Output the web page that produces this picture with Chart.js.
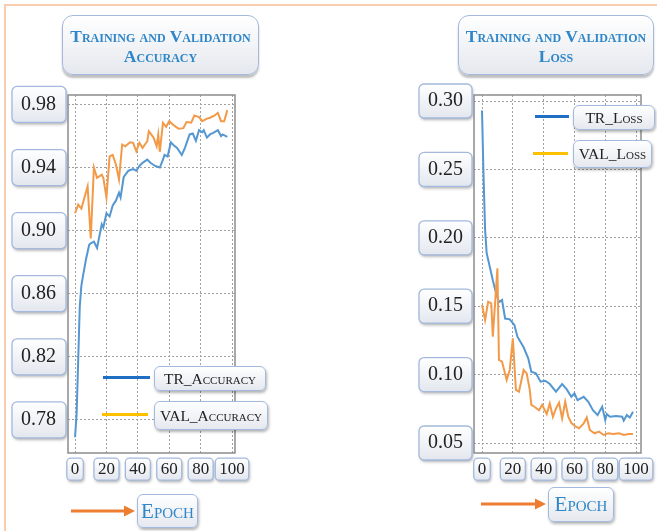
<!DOCTYPE html>
<html><head><meta charset="utf-8">
<script src="https://cdn.jsdelivr.net/npm/chart.js@4.4.0/dist/chart.umd.min.js"></script>
<style>
body{margin:0;background:#fff;}
#wrap{position:relative;width:657px;height:531px;overflow:hidden;background:#fff;font-family:'Liberation Serif',serif;}
.peach-top{position:absolute;left:4px;top:4px;width:700px;height:2px;background:#f8cdb0;}
.peach-left{position:absolute;left:4px;top:4px;width:2px;height:560px;background:#f8cdb0;}
canvas{position:absolute;}
.box{position:absolute;box-sizing:border-box;border:1.5px solid #a3b9dd;border-radius:6px;background:linear-gradient(#ffffff,#e5e8ee);box-shadow:1px 2px 3px rgba(0,0,0,0.3);display:flex;align-items:center;justify-content:center;white-space:nowrap;}
.title{color:#2f86c9;font-weight:bold;font-variant:small-caps;font-size:17.5px;line-height:20px;text-align:center;border-radius:11px;box-shadow:0 3px 2px rgba(0,0,0,0.25);padding-top:2px;}
.leg{color:#222;font-variant:small-caps;font-size:15.5px;}
.line{position:absolute;height:3px;}
.epoch{color:#2f86c9;font-variant:small-caps;font-size:21px;}
svg{position:absolute;left:0;top:0;}
</style></head>
<body>
<div id="wrap">
  <div class="peach-top"></div>
  <div class="peach-left"></div>
  <canvas id="acc" width="330" height="420" style="left:0;top:80px;width:330px;height:420px;"></canvas>
  <canvas id="loss" width="327" height="420" style="left:330px;top:80px;width:327px;height:420px;"></canvas>

  <div class="box title" style="left:62px;top:15px;width:197px;height:60px;">Training and Validation<br>Accuracy</div>
  <div class="box title" style="left:458px;top:15px;width:196px;height:60px;">Training and Validation<br>Loss</div>

  <div class="line" style="left:103px;top:376px;width:47px;background:#1f6fc5;"></div>
  <div class="box leg" style="left:154px;top:366px;width:112px;height:25px;">TR_Accuracy</div>
  <div class="line" style="left:102px;top:413px;width:46px;background:#ffc000;"></div>
  <div class="box leg" style="left:154px;top:401px;width:114px;height:29px;">VAL_Accuracy</div>

  <div class="line" style="left:535px;top:115px;width:34px;background:#1f6fc5;"></div>
  <div class="box leg" style="left:573px;top:105px;width:82px;height:25px;">TR_Loss</div>
  <div class="line" style="left:533px;top:152px;width:35px;background:#ffc000;"></div>
  <div class="box leg" style="left:573px;top:140px;width:79px;height:28px;">VAL_Loss</div>

  <svg width="657" height="531">
    <line x1="71" y1="511" x2="126" y2="511" stroke="#ed7d31" stroke-width="3"/>
    <polygon points="124,505.5 135,511 124,516.5" fill="#ed7d31"/>
    <line x1="481" y1="504" x2="537" y2="504" stroke="#ed7d31" stroke-width="3"/>
    <polygon points="535,498.5 546,504 535,509.5" fill="#ed7d31"/>
  </svg>
  <div class="box epoch" style="left:137px;top:494px;width:61px;height:34px;">Epoch</div>
  <div class="box epoch" style="left:548px;top:487px;width:66px;height:35px;">Epoch</div>
</div>
<script>
const epochTicks = [0, 20, 40, 60, 80, 100];
const accTicks = [0.78, 0.82, 0.86, 0.90, 0.94, 0.98];
const lossTicks = [0.05, 0.10, 0.15, 0.20, 0.25, 0.30];

const accTrainEpochs = [0,1,2,3,4,5,7,9,10,12,14,17,18,20,22,24,26,28,29,31,34,37,39,41,43,46,48,51,54,56,57,59,61,63,65,68,70,73,75,77,79,81,82,84,86,88,91,93,94,97];
const accTrainValues = [0.769,0.784,0.818,0.852,0.865,0.871,0.882,0.891,0.892,0.893,0.889,0.904,0.902,0.911,0.909,0.916,0.919,0.924,0.921,0.934,0.938,0.939,0.938,0.941,0.943,0.945,0.943,0.941,0.940,0.945,0.948,0.947,0.956,0.954,0.9525,0.948,0.9525,0.961,0.9616,0.957,0.9637,0.9624,0.9637,0.959,0.961,0.962,0.9637,0.960,0.961,0.9595];

const accValEpochs = [0,2,4,8,10,12,14,17,18,20,22,24,26,28,30,32,35,37,39,41,43,46,47,50,52,53,54,56,58,60,63,66,69,71,74,76,79,81,84,86,89,91,93,95,97];
const accValValues = [0.911,0.9165,0.914,0.928,0.895,0.940,0.9335,0.9355,0.9335,0.921,0.947,0.948,0.942,0.9325,0.9546,0.9535,0.956,0.9557,0.9504,0.9557,0.9525,0.9567,0.963,0.959,0.9535,0.961,0.950,0.9684,0.9658,0.9694,0.9667,0.9646,0.965,0.9688,0.9684,0.973,0.972,0.9694,0.971,0.9716,0.973,0.9747,0.9694,0.9694,0.9764];

const lossTrainEpochs = [0,1,2,3,5,7,9,11,13,15,18,21,23,27,30,32,35,38,41,44,48,52,55,58,60,62,66,69,72,75,78,80,81,83,87,91,92,94,96,98];
const lossTrainValues = [0.293,0.245,0.206,0.189,0.179,0.169,0.160,0.153,0.1545,0.141,0.1404,0.1363,0.1277,0.120,0.1119,0.1021,0.1009,0.0948,0.0955,0.0931,0.0875,0.0931,0.0892,0.0838,0.0863,0.0814,0.0838,0.0801,0.0740,0.0704,0.0765,0.0668,0.0712,0.0692,0.0697,0.0692,0.0663,0.0704,0.0687,0.0728];

const lossValEpochs = [0,2,4,6,7,10,11,13,16,18,20,22,24,27,29,31,32,34,37,39,42,44,46,48,50,52,54,56,58,61,63,66,68,70,73,76,79,82,85,89,92,95,98];
const lossValValues = [0.1509,0.1399,0.1533,0.1521,0.1277,0.1777,0.1107,0.1094,0.0961,0.1034,0.1266,0.0889,0.0875,0.1034,0.1009,0.0889,0.0779,0.0765,0.0740,0.0779,0.0712,0.0789,0.0692,0.0752,0.0794,0.0680,0.0802,0.0692,0.0646,0.0619,0.0607,0.0643,0.0687,0.0595,0.0571,0.0583,0.0559,0.0571,0.0566,0.0571,0.0559,0.0566,0.0566];

const BLUE = '#5597d1', ORANGE = '#f29a48';

function pts(xs, ys) { return xs.map((x, i) => ({ x: x, y: ys[i] })); }

function roundBox(ctx, x, y, w, h, r) {
  ctx.save();
  ctx.beginPath();
  ctx.roundRect(x, y, w, h, r);
  ctx.shadowColor = 'rgba(0,0,0,0.3)';
  ctx.shadowBlur = 3;
  ctx.shadowOffsetX = 1;
  ctx.shadowOffsetY = 2;
  const g = ctx.createLinearGradient(0, y, 0, y + h);
  g.addColorStop(0, '#ffffff');
  g.addColorStop(1, '#e3e7ee');
  ctx.fillStyle = g;
  ctx.fill();
  ctx.shadowColor = 'rgba(0,0,0,0)';
  ctx.lineWidth = 1.3;
  ctx.strokeStyle = '#a3b9dd';
  ctx.stroke();
  ctx.restore();
}

const boxPlugin = {
  id: 'tickBoxes',
  beforeDraw(chart, args, opts) {
    const ctx = chart.ctx;
    ['x', 'y'].forEach(id => {
      const s = chart.scales[id];
      const o = s.options.ticks;
      const f = Chart.helpers.toFont(o.font);
      ctx.save();
      ctx.font = f.string;
      s.ticks.forEach((t, i) => {
        const w = ctx.measureText(String(t.label)).width;
        const p = s.getPixelForTick(i);
        if (id === 'x') {
          const cy = s.top + o.padding + f.lineHeight / 2;
          const bw = w + opts.xPad * 2;
          roundBox(ctx, p - bw / 2, cy - opts.xH / 2, bw, opts.xH, 4);
        } else {
          const right = s.right - o.padding;
          roundBox(ctx, right - w - opts.yPadL, p - opts.yH / 2, w + opts.yPadL + opts.yPadR, opts.yH, 5);
        }
      });
      ctx.restore();
    });
  },
  afterDraw(chart) {
    const a = chart.chartArea, ctx = chart.ctx;
    ctx.save();
    ctx.strokeStyle = '#8c8c8c';
    ctx.lineWidth = 1.5;
    ctx.strokeRect(a.left, a.top, a.right - a.left, a.bottom - a.top);
    ctx.restore();
  }
};

function noPad(s) { s.paddingTop = 0; s.paddingBottom = 0; s.paddingLeft = 0; s.paddingRight = 0; }

function makeChart(id, cfg) {
  return new Chart(document.getElementById(id), {
    type: 'line',
    data: {
      datasets: [
        { label: cfg.trLabel, data: pts(cfg.trX, cfg.trY), borderColor: BLUE, borderWidth: 2, pointRadius: 0, tension: 0, order: 1 },
        { label: cfg.valLabel, data: pts(cfg.valX, cfg.valY), borderColor: ORANGE, borderWidth: 2, pointRadius: 0, tension: 0, order: 0 }
      ]
    },
    options: {
      responsive: false, animation: false, devicePixelRatio: 1,
      layout: { padding: { top: 15, right: cfg.padRight, left: 0, bottom: 0 } },
      plugins: { legend: { display: false }, tooltip: { enabled: false }, tickBoxes: cfg.boxes },
      scales: {
        x: {
          type: 'linear', min: cfg.xmin, max: cfg.xmax,
          afterBuildTicks: s => { s.ticks = epochTicks.map(v => ({ value: v })); },
          afterFit: s => { s.height = 47; noPad(s); },
          grid: { color: '#a0a0a0', lineWidth: 1, drawTicks: false },
          border: { display: false, dash: [2, 2] },
          ticks: { font: { family: 'Liberation Serif', size: 17 }, color: '#222', padding: 6, maxRotation: 0, autoSkip: false, callback: v => String(v) }
        },
        y: {
          type: 'linear', min: cfg.ymin, max: cfg.ymax,
          afterBuildTicks: s => { s.ticks = cfg.yTicks.map(v => ({ value: v })); },
          afterFit: s => { s.width = cfg.yWidth; noPad(s); },
          grid: { color: '#a0a0a0', lineWidth: 1, drawTicks: false },
          border: { display: false, dash: [2, 2] },
          ticks: { font: { family: 'Liberation Serif', size: 20 }, color: '#222', padding: cfg.yPad, autoSkip: false, callback: v => Number(v).toFixed(2) }
        }
      }
    },
    plugins: [boxPlugin]
  });
}

makeChart('acc', {
  trLabel: 'TR_Accuracy', valLabel: 'VAL_Accuracy',
  trX: accTrainEpochs, trY: accTrainValues, valX: accValEpochs, valY: accValValues,
  xmin: -4.5, xmax: 101.9, ymin: 0.759, ymax: 0.986, yTicks: accTicks,
  yWidth: 68, padRight: 95, yPad: 12,
  boxes: { xPad: 4, xH: 22, yPadL: 9, yPadR: 10, yH: 36 }
});

makeChart('loss', {
  trLabel: 'TR_Loss', valLabel: 'VAL_Loss',
  trX: lossTrainEpochs, trY: lossTrainValues, valX: lossValEpochs, valY: lossValValues,
  xmin: -5.2, xmax: 103.2, ymin: 0.0427, ymax: 0.3044, yTicks: lossTicks,
  yWidth: 144, padRight: 16, yPad: 11,
  boxes: { xPad: 4, xH: 22, yPadL: 9, yPadR: 9, yH: 34 }
});
</script>
</body></html>
